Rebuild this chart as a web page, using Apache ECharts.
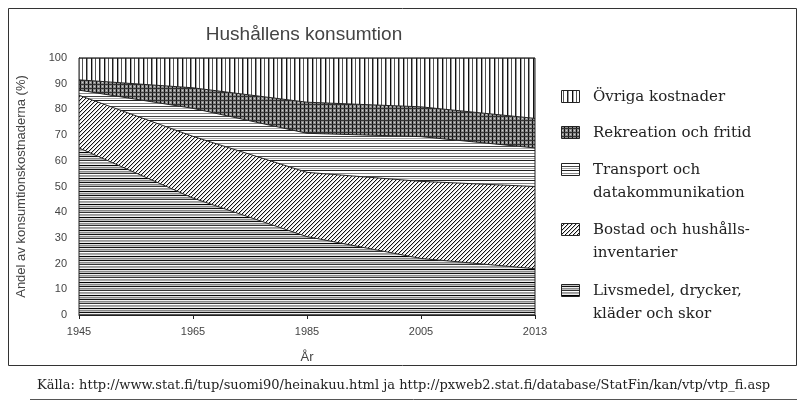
<!DOCTYPE html>
<html>
<head>
<meta charset="utf-8">
<script src="https://cdn.jsdelivr.net/npm/echarts@6/dist/echarts.min.js"></script>
<style>html,body{margin:0;padding:0;background:#fff;}#c{width:805px;height:403px;}</style>
</head>
<body>
<div id="c"></div>
<script>
// ---- data ----
const years = ['1945', '1965', '1985', '2005', '2013'];
const livsmedel = [65, 45.5, 30.5, 22, 18];
const bostad = [20.5, 24, 25, 30, 32];
const transport = [2, 10.9, 15.2, 17.4, 15];
const rekreation = [4, 8, 12.1, 11.6, 11.5];
const ovriga = [8.5, 11.6, 17.2, 19, 23.5];
const seriesNames = ['Livsmedel, drycker, kläder och skor', 'Bostad och hushållsinventarier', 'Transport och datakommunikation', 'Rekreation och fritid', 'Övriga kostnader'];
const legendLines = [
  ['Övriga kostnader'],
  ['Rekreation och fritid'],
  ['Transport och', 'datakommunikation'],
  ['Bostad och hushålls-', 'inventarier'],
  ['Livsmedel, drycker,', 'kläder och skor']
];
const yTicks = {min: 0, max: 100, interval: 10};

// ---- patterns ----
function makePattern(w, h, draw) {
  const c = document.createElement('canvas');
  c.width = w; c.height = h;
  const g = c.getContext('2d');
  g.fillStyle = '#fff'; g.fillRect(0, 0, w, h);
  draw(g);
  return {image: c, repeat: 'repeat'};
}
function px(g, x, y, col) { g.fillStyle = col; g.fillRect(x, y, 1, 1); }
function row(g, y, w, col) { g.fillStyle = col; g.fillRect(0, y, w, 1); }
function col(g, x, h, c) { g.fillStyle = c; g.fillRect(x, 0, 1, h); }

const patLivs = makePattern(1, 13, g => {
  const rows = ['#111', '#eee', '#8a8a8a', '#bbb', '#333', '#fff', '#999', '#aaa', '#eee', '#000', '#ddd', '#888', '#c4c4c4'];
  rows.forEach((c, i) => row(g, i, 1, c));
});
const patBostad = makePattern(4, 4, g => {
  px(g, 0, 3, '#111'); px(g, 1, 2, '#111'); px(g, 2, 1, '#111'); px(g, 3, 0, '#111');
  px(g, 1, 3, '#ccc'); px(g, 2, 2, '#ccc'); px(g, 3, 1, '#ccc'); px(g, 0, 0, '#ccc');
});
const patTransport = makePattern(1, 10, g => {
  row(g, 0, 1, '#222'); row(g, 3, 1, '#888'); row(g, 6, 1, '#444'); row(g, 8, 1, '#aaa');
});
const patRekr = makePattern(4, 4, g => {
  g.fillStyle = '#8c8c8c'; g.fillRect(0, 0, 4, 4);
  col(g, 0, 4, '#111'); row(g, 0, 4, '#333'); px(g, 2, 2, '#d0d0d0');
});
const patOvr = makePattern(13, 1, g => {
  col(g, 0, 1, '#111'); col(g, 1, 1, '#aaa'); col(g, 4, 1, '#555'); col(g, 8, 1, '#222'); col(g, 9, 1, '#999');
});
const patterns = [patLivs, patBostad, patTransport, patRekr, patOvr];
const values = [livsmedel, bostad, transport, rekreation, ovriga];

const series = values.map((v, i) => ({
  name: seriesNames[i],
  type: 'line',
  stack: 'total',
  data: v,
  symbol: 'none',
  smooth: false,
  lineStyle: {color: '#222', width: 1},
  areaStyle: {color: patterns[i], opacity: 1},
  itemStyle: {color: '#222'},
  emphasis: {disabled: true},
  silent: true,
  z: 2
}));

// ---- legend drawn as graphic ----
const legendPat = [patOvr, patRekr, patTransport, patBostad, patLivs];
const legendY = [97, 133, 170, 230, 291];
const serifFont = '"DejaVu Serif"';
const graphics = [];
graphics.push({type: 'rect', shape: {x: 8.5, y: 8.5, width: 788, height: 357}, style: {fill: 'none', stroke: '#333', lineWidth: 1}, silent: true});
graphics.push({type: 'line', shape: {x1: 30, y1: 399.5, x2: 797, y2: 399.5}, style: {stroke: '#555', lineWidth: 1}, silent: true});
legendLines.forEach((lines, i) => {
  graphics.push({type: 'rect', shape: {x: 561.5, y: legendY[i] - 6.5, width: 18, height: 12}, style: {fill: legendPat[i], stroke: '#222', lineWidth: 1}, silent: true});
  lines.forEach((t, j) => {
    graphics.push({type: 'text', x: 593, y: legendY[i] + j * 23, style: {text: t, font: '15px ' + serifFont, fill: '#222', textVerticalAlign: 'middle', textAlign: 'left'}, silent: true});
  });
});
graphics.push({type: 'text', x: 37, y: 386, style: {text: 'Källa: http://www.stat.fi/tup/suomi90/heinakuu.html ja http://pxweb2.stat.fi/database/StatFin/kan/vtp/vtp_fi.asp', font: '13px ' + serifFont, fill: '#222', textVerticalAlign: 'middle'}, silent: true});

const chart = echarts.init(document.getElementById('c'), null, {renderer: 'canvas'});
chart.setOption({
  animation: false,
  backgroundColor: '#fff',
  title: {
    text: 'Hushållens konsumtion',
    left: 299, top: 20, textAlign: 'center',
    textStyle: {fontFamily: 'Liberation Sans', fontSize: 19, fontWeight: 'normal', color: '#444'}
  },
  grid: {left: 79, right: 270, top: 58, bottom: 88, show: true, borderColor: '#222', borderWidth: 1, backgroundColor: 'transparent', z: 5},
  xAxis: {
    type: 'category', data: years, boundaryGap: false,
    name: 'År', nameLocation: 'middle', nameGap: 36,
    nameTextStyle: {fontFamily: 'Liberation Sans', fontSize: 13, color: '#444'},
    axisLine: {lineStyle: {color: '#222', width: 1}},
    axisTick: {show: true, length: 4, lineStyle: {color: '#222'}},
    axisLabel: {fontFamily: 'Liberation Sans', fontSize: 11, color: '#444', margin: 11},
    splitLine: {show: false}
  },
  yAxis: {
    type: 'value', min: yTicks.min, max: yTicks.max, interval: yTicks.interval,
    name: 'Andel av konsumtionskostnaderna (%)', nameLocation: 'middle', nameGap: 51, nameRotate: 90,
    nameTextStyle: {fontFamily: 'Liberation Sans', fontSize: 13, color: '#444'},
    axisLine: {show: true, lineStyle: {color: '#222', width: 1}},
    axisTick: {show: false},
    axisLabel: {fontFamily: 'Liberation Sans', fontSize: 11, color: '#444', margin: 12},
    splitLine: {show: false}
  },
  series: series,
  graphic: graphics
});
</script>
</body>
</html>
